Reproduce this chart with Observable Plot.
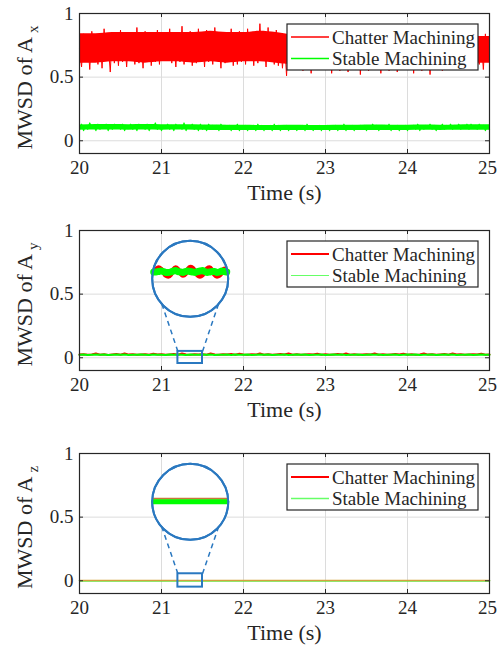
<!DOCTYPE html>
<html><head><meta charset="utf-8">
<script src="https://cdn.jsdelivr.net/npm/d3@7"></script>
<script src="https://cdn.jsdelivr.net/npm/@observablehq/plot@0.6"></script>
<style>
body{margin:0;background:#fff;}
#chart{position:relative;width:497px;height:650px;overflow:hidden;background:#fff;}
#chart svg{position:absolute;left:0;}
</style></head><body><div id="chart"></div>
<script>
// ---- data ----
const xTicks = [20, 21, 22, 23, 24, 25];
const yTicks = [0, 0.5, 1];
const seriesNames = ["Chatter Machining", "Stable Machining"];
const seriesColors = ["#ff0000", "#00ff00"];
const overlapColor = "#d3a23e"; // red and green traces drawn on top of each other (A_z)
const axisSubscripts = ["x", "y", "z"];
const tStart = 20, tEnd = 25;

const chatterX = [
0.72,0.58,0.84,0.62,0.80,0.56,0.86,0.64,0.78,0.60,0.83,0.57,0.88,0.63,0.76,0.54,0.85,0.61,0.81,0.59,
0.87,0.62,0.79,0.58,0.84,0.65,0.82,0.60,0.89,0.61,0.80,0.57,0.86,0.64,0.83,0.59,0.78,0.62,0.87,0.60,
0.82,0.63,0.85,0.70,0.88,0.61,0.79,0.58,0.84,0.62,0.90,0.60,0.81,0.64,0.86,0.59,0.83,0.61,0.88,0.63,
0.80,0.58,0.87,0.62,0.84,0.60,0.89,0.64,0.79,0.57,0.85,0.61,0.82,0.63,0.88,0.59,0.81,0.60,0.86,0.62,
0.84,0.60,0.88,0.63,0.82,0.59,0.86,0.61,0.92,0.64,0.80,0.58,0.89,0.62,0.83,0.60,0.87,0.59,0.81,0.57,
0.78,0.51,0.83,0.58,0.80,0.56,0.84,0.60,0.79,0.55,0.82,0.57,0.77,0.53,0.83,0.58,0.80,0.56,0.81,0.59,
0.79,0.56,0.82,0.53,0.78,0.58,0.83,0.55,0.80,0.57,0.76,0.54,0.82,0.59,0.79,0.56,0.84,0.52,0.78,0.57,
0.81,0.55,0.77,0.58,0.83,0.56,0.80,0.53,0.82,0.59,0.78,0.55,0.84,0.57,0.79,0.54,0.81,0.58,0.77,0.56,
0.82,0.57,0.79,0.53,0.83,0.58,0.80,0.55,0.84,0.56,0.78,0.52,0.82,0.59,0.79,0.57,0.81,0.55,0.83,0.58,
0.80,0.57,0.84,0.60,0.78,0.56,0.83,0.62,0.81,0.58,0.79,0.61,0.85,0.57,0.82,0.60,0.80,0.56,0.84,0.62,0.75
];
// dense core of the chatter band (every 0.2 s)
const chatterXLow  = [0.61,0.61,0.62,0.62,0.61,0.62,0.62,0.61,0.62,0.61,0.62,0.62,0.61,0.60,0.60,0.60,0.60,0.60,0.60,0.60,0.60,0.60,0.61,0.61,0.61,0.61];
const chatterXHigh = [0.84,0.84,0.85,0.85,0.85,0.85,0.85,0.85,0.86,0.85,0.85,0.86,0.85,0.83,0.82,0.82,0.82,0.82,0.82,0.82,0.82,0.82,0.82,0.82,0.82,0.82];
const stableX = [
0.10,0.13,0.08,0.12,0.09,0.14,0.10,0.12,0.08,0.13,0.09,0.12,0.10,0.13,0.08,0.12,0.09,0.13,0.10,0.12,
0.09,0.13,0.08,0.12,0.10,0.13,0.09,0.12,0.08,0.13,0.10,0.12,0.09,0.13,0.08,0.12,0.10,0.14,0.09,0.12,
0.08,0.12,0.10,0.13,0.09,0.12,0.08,0.13,0.10,0.12,0.09,0.14,0.08,0.12,0.10,0.13,0.09,0.12,0.08,0.13,
0.09,0.12,0.08,0.13,0.10,0.12,0.09,0.12,0.08,0.13,0.09,0.12,0.10,0.12,0.08,0.12,0.09,0.13,0.08,0.12,
0.09,0.12,0.08,0.12,0.10,0.12,0.08,0.13,0.09,0.12,0.08,0.12,0.09,0.12,0.08,0.13,0.09,0.12,0.08,0.12,
0.09,0.12,0.08,0.12,0.09,0.11,0.08,0.12,0.09,0.12,0.08,0.13,0.09,0.11,0.08,0.12,0.09,0.12,0.08,0.12,
0.09,0.12,0.08,0.12,0.10,0.12,0.08,0.12,0.09,0.13,0.08,0.12,0.09,0.12,0.08,0.12,0.10,0.12,0.09,0.12,
0.08,0.12,0.09,0.13,0.10,0.12,0.08,0.12,0.09,0.12,0.10,0.13,0.08,0.12,0.09,0.12,0.08,0.11,0.09,0.12,
0.08,0.12,0.10,0.12,0.09,0.13,0.08,0.12,0.09,0.12,0.10,0.13,0.09,0.12,0.08,0.12,0.10,0.13,0.09,0.12,
0.10,0.13,0.09,0.12,0.10,0.13,0.09,0.12,0.10,0.13,0.09,0.13,0.10,0.12,0.09,0.13,0.10,0.12,0.08,0.12,0.09
];
const stableXLow  = [0.082,0.084,0.084,0.083,0.084,0.083,0.084,0.082,0.081,0.081,0.080,0.080,0.080,0.080,0.080,0.080,0.080,0.081,0.081,0.081,0.081,0.082,0.081,0.082,0.083,0.083];
const stableXHigh = [0.124,0.128,0.127,0.126,0.127,0.126,0.126,0.125,0.123,0.122,0.121,0.120,0.120,0.121,0.120,0.120,0.121,0.122,0.123,0.122,0.122,0.123,0.122,0.124,0.125,0.125];
const chatterY = [
0.025,0.028,0.023,0.026,0.033,0.024,0.027,0.022,0.026,0.029,
0.024,0.034,0.025,0.027,0.023,0.026,0.028,0.024,0.032,0.025,
0.027,0.023,0.026,0.029,0.024,0.034,0.026,0.023,0.027,0.025,
0.028,0.024,0.033,0.026,0.023,0.027,0.025,0.029,0.024,0.032,
0.026,0.023,0.027,0.025,0.034,0.024,0.027,0.023,0.026,0.029,
0.025,0.033,0.024,0.027,0.023,0.026,0.028,0.025,0.032,0.024,
0.027,0.023,0.026,0.029,0.025,0.034,0.024,0.027,0.023,0.026,
0.028,0.025,0.033,0.024,0.027,0.023,0.026,0.029,0.025,0.032,
0.024,0.027,0.023,0.026,0.034,0.025,0.027,0.023,0.026,0.029,
0.024,0.033,0.025,0.027,0.023,0.026,0.028,0.025,0.032,0.024,0.026
];
const stableY = [
0.023,0.025,0.022,0.024,0.026,0.023,0.025,0.022,0.024,0.026,
0.023,0.025,0.022,0.024,0.023,0.026,0.024,0.022,0.025,0.023,
0.024,0.022,0.025,0.023,0.026,0.024,0.022,0.025,0.023,0.024,
0.026,0.023,0.025,0.022,0.024,0.023,0.025,0.022,0.026,0.024,
0.023,0.025,0.022,0.024,0.026,0.023,0.025,0.022,0.024,0.023,
0.025,0.022,0.024,0.026,0.023,0.025,0.022,0.024,0.023,0.025,
0.022,0.024,0.026,0.023,0.025,0.022,0.024,0.023,0.025,0.022,
0.024,0.026,0.023,0.025,0.022,0.024,0.023,0.025,0.022,0.024,
0.026,0.023,0.025,0.022,0.024,0.023,0.025,0.022,0.024,0.026,
0.023,0.025,0.022,0.024,0.023,0.025,0.022,0.024,0.026,0.023,0.024
];
const chatterZ = [0.002, 0.002, 0.002, 0.002, 0.002, 0.002];
const stableZ = [0.001, 0.001, 0.001, 0.001, 0.001, 0.001];

// magnified views (zoom window 21.2–21.5 s)
const zoomWindowT = [21.2, 21.5];
const insetChatterY = [0.020,0.026,0.030,0.027,0.021,0.014,0.012,0.016,0.025,0.030,0.026,0.019,0.014,0.017,0.026,0.031,0.029,0.022,0.015,0.012,0.015,0.022,0.028,0.030,0.024,0.016,0.012,0.014,0.020,0.027,0.023];
const insetStableY = [0.021,0.021,0.022,0.023,0.022,0.020,0.020,0.021,0.023,0.024,0.022,0.021,0.020,0.022,0.023,0.022,0.021,0.020,0.022,0.023,0.024,0.022,0.020,0.021,0.022,0.022,0.020,0.021,0.023,0.022,0.021];
const insetChatterZ = [0.003, 0.003];
const insetStableZ = [0.0, 0.0];

// ---- layout ----
const W = 497, H = 210, ML = 79, MR = 8, MT = 13, MB = 57;
const xDomain = [20, 25], yDomain = [-0.1, 1];
const kx = (W - ML - MR) / (xDomain[1] - xDomain[0]);   // px per second
const ky = (H - MT - MB) / (yDomain[1] - yDomain[0]);   // px per unit
const BLUE = "#2a78c0";
const TEXT = "#262626";
const FONT = "'Liberation Serif','Times New Roman',serif";

function rows(values, t0 = tStart, t1 = tEnd) {
  return values.map((v, i) => ({t: t0 + i * (t1 - t0) / (values.length - 1), v}));
}
function bandRows(lo, hi) {
  return lo.map((v, i) => ({t: tStart + i * (tEnd - tStart) / (lo.length - 1), lo: v, hi: hi[i]}));
}

function insetMarks(cfg) {
  const cx = cfg.center.t, cy = cfg.center.v, r = cfg.r;
  const mid = (zoomWindowT[0] + zoomWindowT[1]) / 2;
  const span = zoomWindowT[1] - zoomWindowT[0];
  const halfPx = r - 1.5;
  const mapT = t => cx + ((t - mid) / span) * 2 * halfPx / kx;
  const mapV = v => cy + (v - cfg.v0) * cfg.mag / ky;
  const ang = 48 * Math.PI / 180;
  const links = [-1, 1].map(s => ({
    x1: s < 0 ? zoomWindowT[0] : zoomWindowT[1], y1: cfg.boxV[1],
    x2: cx + s * r * Math.sin(ang) / kx, y2: cy - r * Math.cos(ang) / ky
  }));
  const marks = [
    Plot.rect([{t1: zoomWindowT[0], t2: zoomWindowT[1], v1: cfg.boxV[0], v2: cfg.boxV[1]}],
      {x1: "t1", x2: "t2", y1: "v1", y2: "v2", fill: "none", stroke: BLUE, strokeWidth: 2}),
    Plot.link(links, {x1: "x1", y1: "y1", x2: "x2", y2: "y2", stroke: BLUE, strokeWidth: 1.5, strokeDasharray: "5,4"}),
    Plot.dot([cfg.center], {x: "t", y: "v", r, fill: "white", stroke: BLUE, strokeWidth: 2})
  ];
  if (cfg.zeroLine) {
    marks.push(Plot.line(rows([0, 0], zoomWindowT[0], zoomWindowT[1]),
      {x: d => mapT(d.t), y: d => mapV(d.v), stroke: "#d0d0d0", strokeWidth: 1.5}));
  }
  marks.push(
    Plot.line(rows(cfg.chatter, zoomWindowT[0], zoomWindowT[1]),
      {x: d => mapT(d.t), y: d => mapV(d.v), stroke: cfg.chatterStroke ?? seriesColors[0], strokeWidth: cfg.chatterW, curve: "monotone-x"}),
    Plot.line(rows(cfg.stable, zoomWindowT[0], zoomWindowT[1]),
      {x: d => mapT(d.t), y: d => mapV(d.v), stroke: seriesColors[1], strokeWidth: cfg.stableW, curve: "monotone-x"}),
    Plot.dot([cfg.center], {x: "t", y: "v", r, fill: "none", stroke: BLUE, strokeWidth: 2})
  );
  return marks;
}

function panel(idx, chatter, stable, opts) {
  const marks = [
    Plot.gridX(xTicks, {stroke: "#dcdcdc", strokeOpacity: 1}),
    Plot.gridY(yTicks, {stroke: "#dcdcdc", strokeOpacity: 1}),
  ];
  if (opts.bands) {
    marks.push(Plot.areaY(bandRows(...opts.bands[0]), {x: "t", y1: "lo", y2: "hi", fill: seriesColors[0], curve: "monotone-x"}));
    marks.push(Plot.areaY(bandRows(...opts.bands[1]), {x: "t", y1: "lo", y2: "hi", fill: seriesColors[1], curve: "monotone-x"}));
  }
  if (opts.stableFirst) {
    marks.push(Plot.line(rows(stable), {x: "t", y: "v", stroke: seriesColors[1], strokeWidth: opts.w[1]}));
    marks.push(Plot.line(rows(chatter), {x: "t", y: "v", stroke: opts.chatterStroke ?? seriesColors[0], strokeWidth: opts.w[0]}));
  } else {
    marks.push(Plot.line(rows(chatter), {x: "t", y: "v", stroke: seriesColors[0], strokeWidth: opts.w[0]}));
    marks.push(Plot.line(rows(stable), {x: "t", y: "v", stroke: seriesColors[1], strokeWidth: opts.w[1]}));
  }
  if (opts.inset) marks.push(...insetMarks(opts.inset));
  marks.push(
    Plot.frame({stroke: TEXT, strokeWidth: 1.2}),
    Plot.ruleX(xTicks.slice(1, -1), {y1: yDomain[0], y2: yDomain[0] + 4 / ky, stroke: TEXT}),
    Plot.ruleX(xTicks.slice(1, -1), {y1: yDomain[1], y2: yDomain[1] - 4 / ky, stroke: TEXT}),
    Plot.ruleY(yTicks, {x1: xDomain[0], x2: xDomain[0] + 4 / kx, stroke: TEXT}),
    Plot.ruleY(yTicks, {x1: xDomain[1], x2: xDomain[1] - 4 / kx, stroke: TEXT}),
    Plot.axisX(xTicks.slice(0, -1), {tickSize: 0, tickPadding: 7, label: null, fontSize: 19, tickFormat: d => String(d)}),
    Plot.axisX(xTicks.slice(-1), {tickSize: 0, tickPadding: 7, label: null, fontSize: 19, dx: -2, tickFormat: d => String(d)}),
    Plot.axisY(yTicks, {tickSize: 0, tickPadding: 6, label: null, fontSize: 19, tickFormat: d => String(d)}),
    Plot.text(["Time (s)"], {text: d => d, frameAnchor: "bottom", dy: 46, fontSize: 22, fill: TEXT}),
    Plot.text(["MWSD of A"], {text: d => d, frameAnchor: "left", textAnchor: "middle", dx: -55, dy: 4, rotate: -90, fontSize: 22, fill: TEXT})
  );
  const svg = Plot.plot({
    width: W, height: H, marginLeft: ML, marginRight: MR, marginTop: MT, marginBottom: MB,
    x: {domain: xDomain}, y: {domain: yDomain},
    style: {fontFamily: FONT, color: TEXT, background: "transparent", overflow: "visible"},
    marks
  });
  // subscript on y label
  d3.select(svg).selectAll("text").filter(function () { return this.textContent === "MWSD of A"; })
    .append("tspan").attr("dx", 4).attr("dy", "0.42em").attr("font-size", 15).text(axisSubscripts[idx]);
  // legend
  const lg = d3.select(svg).append("g").attr("font-family", FONT).attr("font-size", 19)
    .attr("fill", TEXT).attr("text-anchor", "start");
  lg.append("rect").attr("x", 287).attr("y", 24).attr("width", 191).attr("height", 46)
    .attr("fill", "white").attr("stroke", TEXT).attr("stroke-width", 1.2);
  seriesNames.forEach((name, i) => {
    const y = 37 + i * 21.5;
    lg.append("line").attr("x1", 291).attr("x2", 329).attr("y1", y).attr("y2", y)
      .attr("stroke", seriesColors[i]).attr("stroke-width", opts.legendW[i]).attr("stroke-opacity", opts.legendOp[i]);
    lg.append("text").attr("x", 332).attr("y", y).attr("dy", "0.35em").text(name);
  });
  svg.style.top = opts.top + "px";
  document.getElementById("chart").appendChild(svg);
}

panel(0, chatterX, stableX, {top: 0, w: [1, 1.2], legendW: [1.5, 1.5], legendOp: [1, 1],
  bands: [[chatterXLow, chatterXHigh], [stableXLow, stableXHigh]]});
panel(1, chatterY, stableY, {top: 217, w: [2, 2], legendW: [2, 1.2], legendOp: [1, 0.6],
  inset: {center: {t: 21.35, v: 0.62}, r: 38, boxV: [-0.045, 0.05], v0: 0.0067, mag: 480,
          chatter: insetChatterY, stable: insetStableY, chatterW: 5, stableW: 7, zeroLine: true}});
panel(2, chatterZ, stableZ, {top: 440, w: [1.5, 1.5], stableFirst: true, chatterStroke: overlapColor, legendW: [2, 1.5], legendOp: [1, 0.6],
  inset: {center: {t: 21.35, v: 0.62}, r: 38, boxV: [-0.05, 0.055], v0: 0, mag: 1000, chatterStroke: "#c8783a",
          chatter: insetChatterZ, stable: insetStableZ, chatterW: 2, stableW: 5, zeroLine: false}});
</script></body></html>
